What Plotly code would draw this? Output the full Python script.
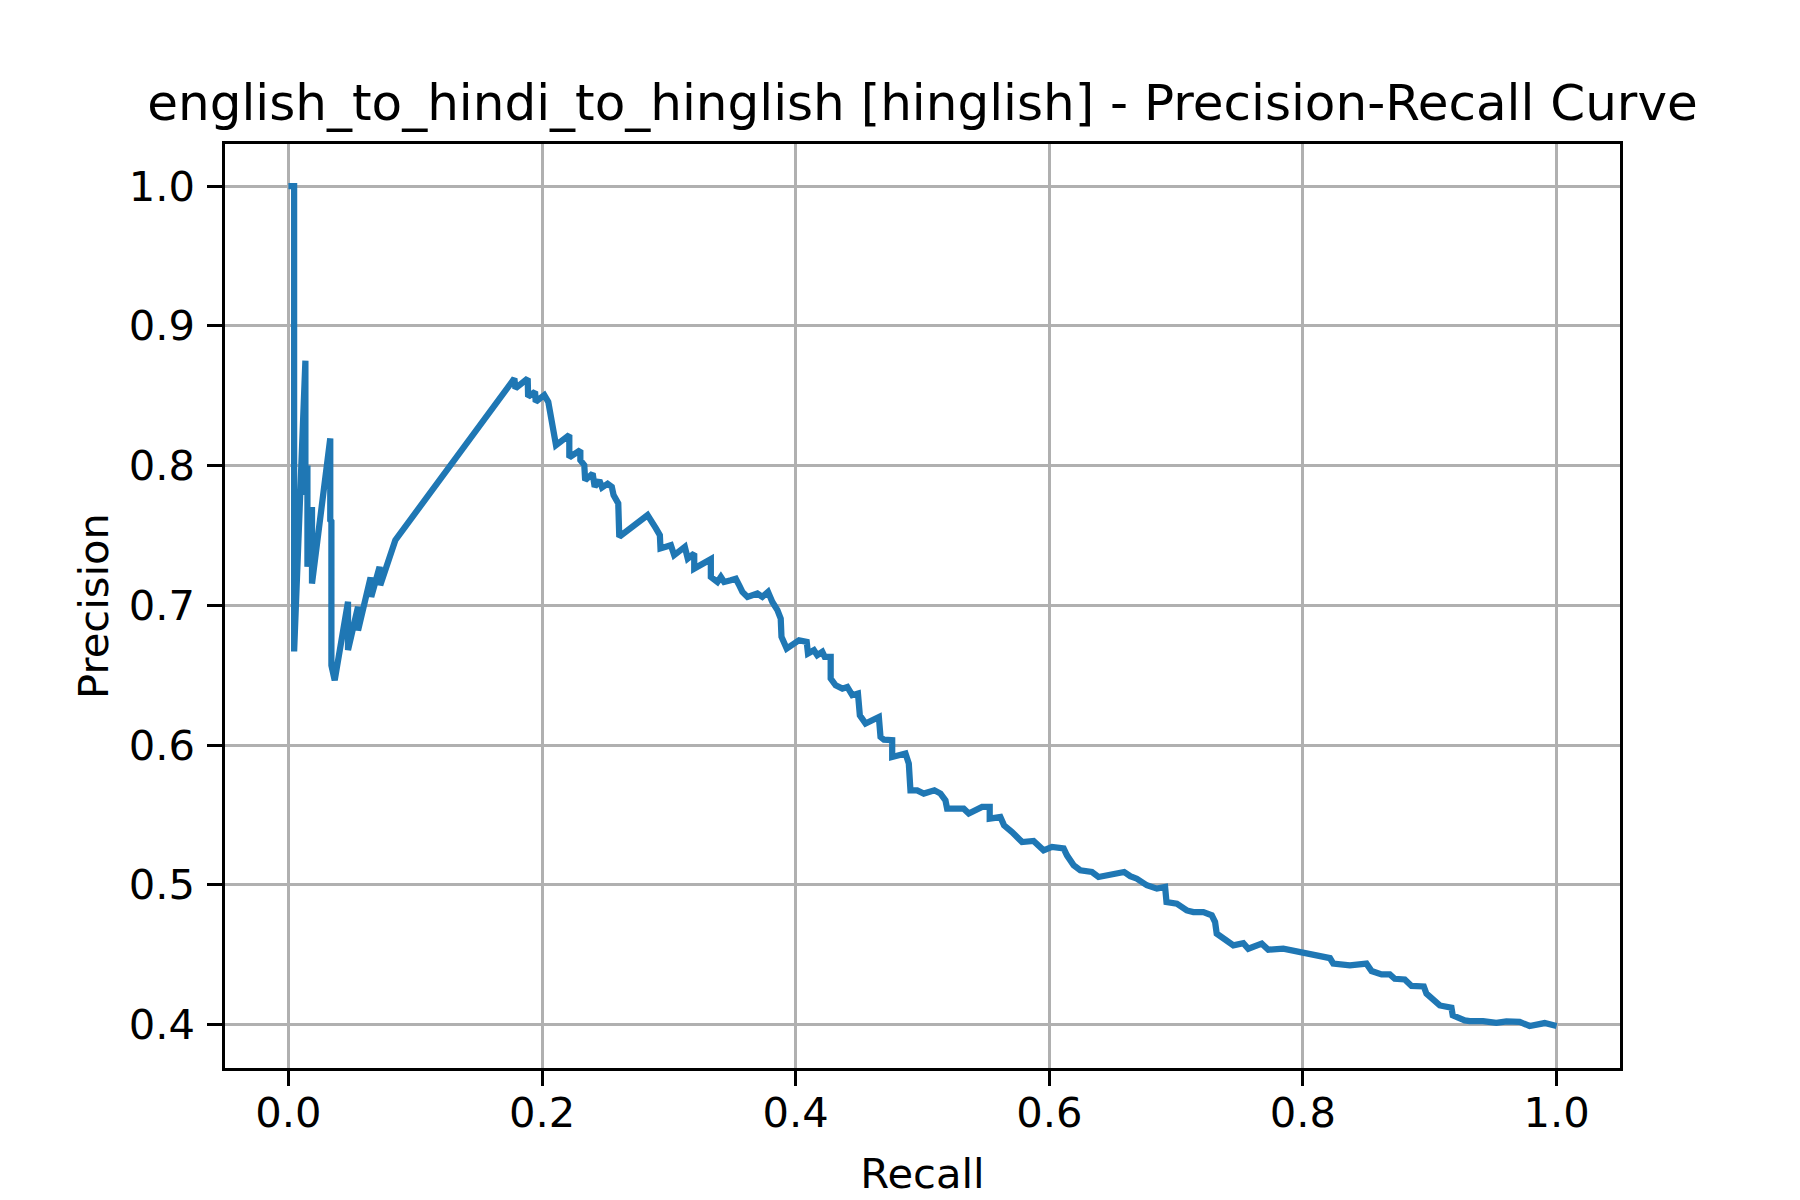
import plotly.graph_objects as go

# Precision-Recall curve points
recall = [
    0.0, 0.0045, 0.0045, 0.0134, 0.0134, 0.0150, 0.0150, 0.0186, 0.0186, 0.0330,
    0.0330, 0.0339, 0.0339, 0.0365, 0.0470, 0.0470, 0.0549, 0.0549, 0.0648, 0.0653,
    0.0719, 0.0724, 0.0843,
    0.1782, 0.1790, 0.1887, 0.1890, 0.1945, 0.1950, 0.2018, 0.2049, 0.2071, 0.2092,
    0.2110, 0.2215, 0.2215, 0.2302, 0.2302, 0.2333, 0.2340, 0.2399, 0.2415, 0.2452,
    0.2473, 0.2517, 0.2550, 0.2564, 0.2601, 0.2609, 0.2832, 0.2898, 0.2929, 0.2934,
    0.3016, 0.3042, 0.3126, 0.3149, 0.3200, 0.3200, 0.3331, 0.3331, 0.3383, 0.3410,
    0.3436, 0.3488, 0.3528, 0.3554, 0.3580, 0.3620, 0.3698, 0.3737, 0.3782, 0.3816,
    0.3856, 0.3882, 0.3888, 0.3929, 0.4026, 0.4087, 0.4097, 0.4144, 0.4170, 0.4210,
    0.4229, 0.4276, 0.4276, 0.4315, 0.4368, 0.4407, 0.4446, 0.4491, 0.4506, 0.4551,
    0.4656, 0.4669, 0.4696, 0.4761, 0.4761, 0.4866, 0.4892, 0.4905, 0.4958, 0.5010,
    0.5094, 0.5142, 0.5181, 0.5194, 0.5325, 0.5365, 0.5470, 0.5530, 0.5530, 0.5614,
    0.5643, 0.5706, 0.5785, 0.5876, 0.5955, 0.6021, 0.6113, 0.6139, 0.6192, 0.6244,
    0.6336, 0.6388, 0.6506, 0.6590, 0.6638, 0.6690, 0.6769, 0.6848, 0.6913, 0.6924,
    0.7006, 0.7084, 0.7136, 0.7215, 0.7281, 0.7307, 0.7320, 0.7386, 0.7451, 0.7530,
    0.7569, 0.7675, 0.7727, 0.7845, 0.8002, 0.8081, 0.8147, 0.8213, 0.8239, 0.8370,
    0.8501, 0.8541, 0.8620, 0.8685, 0.8724, 0.8803, 0.8856, 0.8953, 0.8974, 0.9026,
    0.9079, 0.9171, 0.9181, 0.9276, 0.9315, 0.9420, 0.9525, 0.9604, 0.9709, 0.9787,
    0.9906, 1.0,
]
precision = [
    1.0, 1.0, 0.667, 0.875, 0.779, 0.800, 0.7275, 0.7704, 0.7156, 0.8194,
    0.761, 0.760, 0.657, 0.6464, 0.7025, 0.668, 0.699, 0.682, 0.720, 0.706,
    0.7275, 0.7144, 0.7466,
    0.8623, 0.8552, 0.8623, 0.8492, 0.8528, 0.8456, 0.8504, 0.8456, 0.8325, 0.8253,
    0.8146, 0.8218, 0.8058, 0.8110, 0.8039, 0.8003, 0.7895, 0.7943, 0.7848, 0.7895,
    0.7843, 0.7870, 0.7848, 0.7788, 0.7729, 0.7490, 0.7645, 0.7550, 0.7502, 0.7407,
    0.7430, 0.7359, 0.7418, 0.7335, 0.7371, 0.7263, 0.7330, 0.7203, 0.7167, 0.7203,
    0.7167, 0.7179, 0.7190, 0.7144, 0.7096, 0.7060, 0.7084, 0.7060, 0.7096, 0.7024,
    0.6965, 0.6905, 0.6774, 0.6691, 0.6750, 0.6738, 0.6655, 0.6679, 0.6643, 0.6667,
    0.6631, 0.6631, 0.6476, 0.6428, 0.6404, 0.6416, 0.6357, 0.6369, 0.6213, 0.6154,
    0.6201, 0.6058, 0.6039, 0.6035, 0.5915, 0.5939, 0.5868, 0.5676, 0.5676, 0.5653,
    0.5676, 0.5653, 0.5605, 0.5545, 0.5545, 0.5510, 0.5557, 0.5557, 0.5474, 0.5485,
    0.5426, 0.5378, 0.5306, 0.5314, 0.5247, 0.5271, 0.5260, 0.5211, 0.5140, 0.5104,
    0.5092, 0.5056, 0.5080, 0.5092, 0.5062, 0.5044, 0.4997, 0.4973, 0.4985, 0.4877,
    0.4865, 0.4817, 0.4805, 0.4805, 0.4782, 0.4734, 0.4651, 0.4603, 0.4567, 0.4583,
    0.4543, 0.4579, 0.4536, 0.4543, 0.4519, 0.4507, 0.4488, 0.4476, 0.4436, 0.4424,
    0.4436, 0.4383, 0.4359, 0.4359, 0.4328, 0.4323, 0.4277, 0.4273, 0.4221, 0.4173,
    0.4137, 0.4121, 0.4066, 0.4030, 0.4025, 0.4025, 0.4013, 0.4023, 0.4019, 0.3990,
    0.4011, 0.3990,
]

x_ticks = [0.0, 0.2, 0.4, 0.6, 0.8, 1.0]
y_ticks = [0.4, 0.5, 0.6, 0.7, 0.8, 0.9, 1.0]

title_text = "english_to_hindi_to_hinglish [hinglish] - Precision-Recall Curve"

FONT = "DejaVu Sans"
PT = 300 / 72.0

fig = go.Figure()
fig.add_trace(go.Scatter(
    x=recall, y=precision, mode="lines",
    line=dict(color="#1f77b4", width=1.5 * PT),
    showlegend=False,
))

ymin, ymax = min(precision), max(precision)
ym = (ymax - ymin) * 0.05
axis_common = dict(
    showline=True, linecolor="black", linewidth=0.8 * PT, mirror=True,
    showgrid=True, gridcolor="#b0b0b0", gridwidth=0.8 * PT,
    zeroline=False, automargin=False,
    ticks="outside", ticklen=3.5 * PT, tickwidth=0.8 * PT, tickcolor="black",
    tickfont=dict(family=FONT, size=10 * PT, color="black"),
    tickformat=".1f",
)

fig.update_layout(
    width=1800, height=1200,
    margin=dict(l=225, r=180, t=144, b=132),
    paper_bgcolor="white", plot_bgcolor="white",
    title=dict(
        text=title_text,
        font=dict(family=FONT, size=12 * PT, color="black"),
        x=0.5, xref="paper", xanchor="center",
        y=1.0, yref="paper", yanchor="bottom",
        pad=dict(b=24),
    ),
    xaxis=dict(
        range=[-0.05, 1.05], tickvals=x_ticks, ticklabelstandoff=-9,
        title=dict(text="Recall", font=dict(family=FONT, size=10 * PT, color="black"),
                   standoff=24),
        **axis_common,
    ),
    yaxis=dict(
        range=[ymin - ym, ymax + ym], tickvals=y_ticks, ticklabelstandoff=4,
        title=dict(text="Precision", font=dict(family=FONT, size=10 * PT, color="black"),
                   standoff=8),
        **axis_common,
    ),
)

fig.write_html(
    "out.html",
    config={"displayModeBar": False},
    post_script="document.body.style.margin='0';",
)
